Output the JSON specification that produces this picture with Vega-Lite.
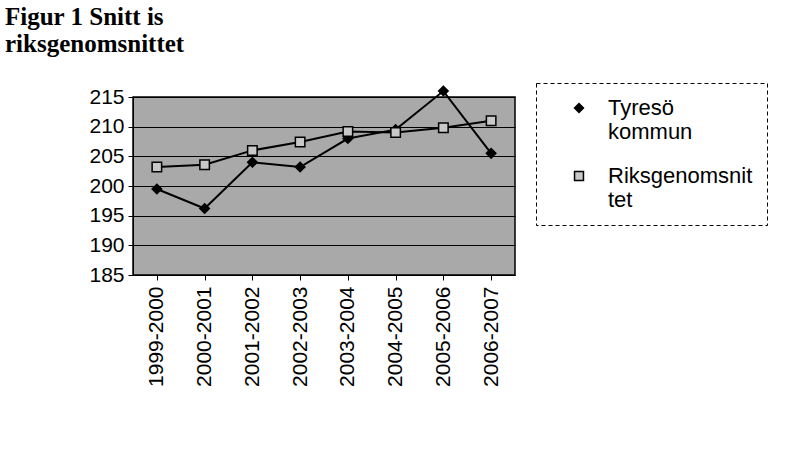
{
  "$schema": "https://vega.github.io/schema/vega-lite/v6.json",
  "width": 382,
  "height": 178,
  "autosize": {"type": "none"},
  "padding": {"left": 133, "top": 97, "right": 293, "bottom": 196},
  "background": "white",
  "title": {
    "text": ["Figur 1 Snitt is", "riksgenomsnittet"],
    "anchor": "start",
    "frame": "group",
    "dx": -128,
    "dy": -22,
    "font": "Liberation Serif",
    "fontSize": 25,
    "fontWeight": "bold",
    "lineHeight": 27,
    "color": "black"
  },
  "config": {
    "view": {"stroke": "black", "strokeWidth": 1.5, "fill": "#a9a9a9"},
    "font": "Liberation Sans",
    "legend": {"strokeDash": [4, 3]}
  },
  "data": {
    "values": [
      {"period": "1999-2000", "serie": "Tyresö kommun", "value": 199.5},
      {"period": "2000-2001", "serie": "Tyresö kommun", "value": 196.2},
      {"period": "2001-2002", "serie": "Tyresö kommun", "value": 204.0},
      {"period": "2002-2003", "serie": "Tyresö kommun", "value": 203.2},
      {"period": "2003-2004", "serie": "Tyresö kommun", "value": 208.0},
      {"period": "2004-2005", "serie": "Tyresö kommun", "value": 209.5},
      {"period": "2005-2006", "serie": "Tyresö kommun", "value": 216.0},
      {"period": "2006-2007", "serie": "Tyresö kommun", "value": 205.5},
      {"period": "1999-2000", "serie": "Riksgenomsnittet", "value": 203.2},
      {"period": "2000-2001", "serie": "Riksgenomsnittet", "value": 203.6},
      {"period": "2001-2002", "serie": "Riksgenomsnittet", "value": 206.0},
      {"period": "2002-2003", "serie": "Riksgenomsnittet", "value": 207.4},
      {"period": "2003-2004", "serie": "Riksgenomsnittet", "value": 209.2},
      {"period": "2004-2005", "serie": "Riksgenomsnittet", "value": 209.0},
      {"period": "2005-2006", "serie": "Riksgenomsnittet", "value": 209.8},
      {"period": "2006-2007", "serie": "Riksgenomsnittet", "value": 211.0}
    ]
  },
  "encoding": {
    "x": {
      "field": "period", "type": "ordinal", "title": null,
      "axis": {
        "labelAngle": -90, "labelFontSize": 21, "labelColor": "black",
        "domainColor": "black", "tickColor": "black", "tickSize": 5,
        "labelPadding": 6, "bandPosition": 0, "ticks": true
      }
    },
    "y": {
      "field": "value", "type": "quantitative", "title": null,
      "scale": {"domain": [185, 215], "nice": false, "zero": false},
      "axis": {
        "values": [185, 190, 195, 200, 205, 210, 215],
        "labelFontSize": 21, "labelColor": "black",
        "gridColor": "black", "gridWidth": 1.2, "gridOpacity": 1,
        "domainColor": "black", "tickColor": "black", "tickSize": 5,
        "labelPadding": 4
      }
    }
  },
  "layer": [
    {
      "mark": {"type": "line", "strokeWidth": 2, "color": "black", "clip": false},
      "encoding": {"detail": {"field": "serie"}}
    },
    {
      "mark": {"type": "point", "size": 90, "strokeWidth": 1.5, "opacity": 1, "stroke": "black", "clip": false},
      "encoding": {
        "shape": {
          "field": "serie", "type": "nominal",
          "scale": {"domain": ["Tyresö kommun", "Riksgenomsnittet"], "range": ["diamond", "square"]},
          "legend": {
            "title": null, "orient": "none", "legendX": 403, "legendY": -14,
            "labelFontSize": 22, "labelColor": "black", "labelLimit": 0,
            "labelExpr": "datum.label == 'Tyresö kommun' ? ['Tyresö', 'kommun'] : ['Riksgenomsnit', 'tet']",
            "labelLineHeight": 29,
            "strokeColor": "black", "padding": 14,
            "rowPadding": 22, "symbolSize": 80,
            "symbolOffset": 18, "labelOffset": 18, "fillColor": "white",
            "encode": {"symbols": {"update": {"stroke": {"value": "black"}, "strokeWidth": {"value": 1.5}}}}
          }
        },
        "fill": {
          "field": "serie", "type": "nominal",
          "scale": {"domain": ["Tyresö kommun", "Riksgenomsnittet"], "range": ["black", "#c8c8c8"]}
        }
      }
    }
  ]
}
